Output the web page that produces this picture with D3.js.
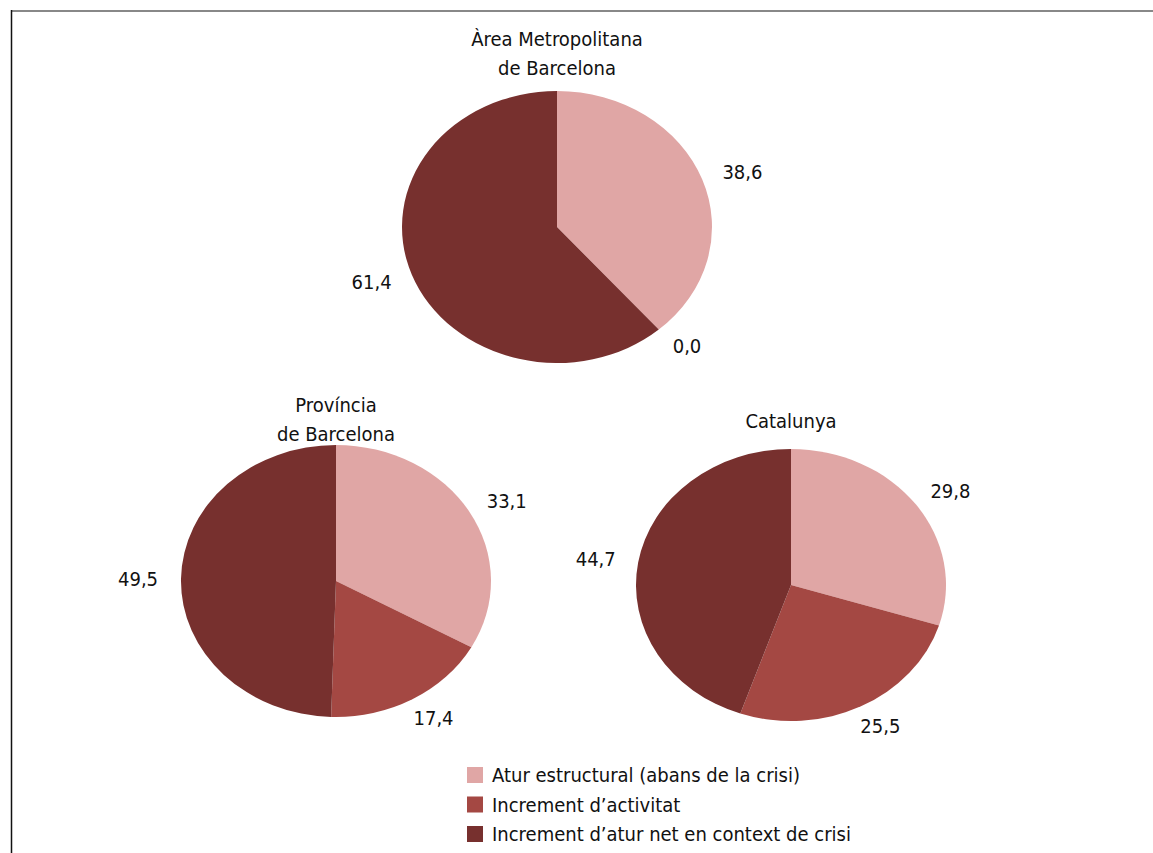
<!DOCTYPE html>
<html>
<head>
<meta charset="utf-8">
<script src="https://cdn.jsdelivr.net/npm/d3@7"></script>
<style>
  html, body { margin: 0; padding: 0; background: #fff; }
  svg { display: block; }
  text { font-family: "Liberation Sans Narrow", "Arial Narrow", "DejaVu Sans Condensed", sans-serif; fill: #111; }
</style>
</head>
<body>
<svg id="chart" width="1153" height="853"></svg>
<script>
// ---- Data ----
const categories = [
  "Atur estructural (abans de la crisi)",
  "Increment d’activitat",
  "Increment d’atur net en context de crisi"
];
const regionTitles = [
  ["Àrea Metropolitana", "de Barcelona"],
  ["Província", "de Barcelona"],
  ["Catalunya"]
];
const ambValues  = [38.6, 0.0, 61.4];
const provValues = [33.1, 17.4, 49.5];
const catValues  = [29.8, 25.5, 44.7];
const colors = ["#E0A6A5", "#A44843", "#77302E"];

// ---- Layout ----
const W = 1153, H = 853;
const svg = d3.select("#chart");
const rx = 155, ry = 136;
const pies = [
  { title: regionTitles[0], values: ambValues,  cx: 557, cy: 227, titleY: 46 },
  { title: regionTitles[1], values: provValues, cx: 336, cy: 581, titleY: 412 },
  { title: regionTitles[2], values: catValues,  cx: 791, cy: 585, titleY: 428 }
];

// frame lines
svg.append("line").attr("x1", 11).attr("x2", W).attr("y1", 11).attr("y2", 11)
  .attr("stroke", "#888").attr("stroke-width", 2);
svg.append("line").attr("x1", 11.5).attr("x2", 11.5).attr("y1", 10).attr("y2", H)
  .attr("stroke", "#111").attr("stroke-width", 1.5);

const locale = d3.formatLocale({ decimal: ",", thousands: ".", grouping: [3], currency: ["", "€"] });
const fmt = locale.format(".1f");

const pie = d3.pie().sort(null).value(d => d);
const arc = d3.arc().innerRadius(0).outerRadius(rx);
const labelRx = 198, labelRy = 158;

pies.forEach(p => {
  const g = svg.append("g").attr("transform", `translate(${p.cx},${p.cy})`);
  const arcs = pie(p.values);
  g.append("g").attr("transform", `scale(1,${ry / rx})`)
    .selectAll("path").data(arcs).join("path")
    .attr("d", arc)
    .attr("fill", (d, i) => colors[i]);

  g.selectAll("text.lbl").data(arcs).join("text")
    .attr("class", "lbl")
    .attr("x", d => Math.sin((d.startAngle + d.endAngle) / 2) * labelRx)
    .attr("y", d => -Math.cos((d.startAngle + d.endAngle) / 2) * labelRy)
    .attr("dy", "0.35em")
    .attr("text-anchor", "middle")
    .style("font-size", "20px")
    .text(d => fmt(d.data));

  const t = svg.append("text")
    .attr("x", p.cx).attr("y", p.titleY)
    .attr("text-anchor", "middle")
    .style("font-size", "20px");
  p.title.forEach((line, i) => {
    t.append("tspan").attr("x", p.cx).attr("dy", i === 0 ? 0 : 29).text(line);
  });
});

// legend
const legend = svg.append("g").attr("transform", "translate(467,767)");
const rows = legend.selectAll("g").data(categories).join("g")
  .attr("transform", (d, i) => `translate(0,${i * 29.5})`);
rows.append("rect").attr("width", 16).attr("height", 16).attr("fill", (d, i) => colors[i]);
rows.append("text").attr("x", 25).attr("y", 8).attr("dy", "0.35em")
  .style("font-size", "20px").text(d => d);
</script>
</body>
</html>
